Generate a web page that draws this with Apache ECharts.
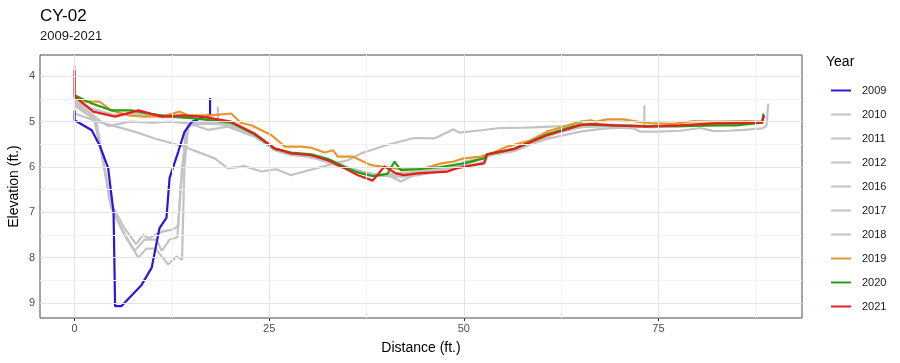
<!DOCTYPE html>
<html><head><meta charset="utf-8">
<script src="https://cdn.jsdelivr.net/npm/echarts@6/dist/echarts.min.js"></script>
<style>html,body{margin:0;padding:0;background:#fff}#c{width:900px;height:363px}</style>
</head><body><div id="c"></div>
<script>
const years = ['2009','2010','2011','2012','2016','2017','2018','2019','2020','2021'];
const xTicks = [0,25,50,75];
const xMinor = [12.5,37.5,62.5,87.5];
const yTicks = [4,5,6,7,8,9];
const yMinor = [4.5,5.5,6.5,7.5,8.5];

const x2009 = [0,0,2.2,3.2,4.3,5.0,5.2,6.0,8.6,9.9,10.9,11.8,12.2,13.3,14.1,15,17.1,17.4,17.4];
const y2009 = [4.75,4.97,5.19,5.52,6.02,7.0,9.07,9.07,8.6,8.22,7.35,7.12,6.24,5.67,5.23,5.01,4.86,4.86,4.48];

const x2010 = [0,3,7.7,10.3,14,16.3,18,19.7,21.8,24,25.9,27.8,29.5,33.4,35.1,36.8,40,43.6,46.2,48.7,49.4,52.2,54.7,58,62.8,67.6,72.3,73.2,73.2];
const y2010 = [4.82,5.0,5.22,5.37,5.55,5.7,5.81,6.03,5.98,6.1,6.05,6.18,6.1,5.92,5.85,5.7,5.52,5.36,5.37,5.17,5.24,5.19,5.14,5.13,5.1,5.1,5.12,5.1,4.64];

const x2011 = [0,2.5,3.7,4.5,6.4,7.9,8.8,9.6,10.5,11.4,12.6,13.3,13.8,14.6,16.5,18.4,18.4];
const y2011 = [4.6,4.95,5.9,6.75,7.35,7.7,7.5,7.57,7.48,7.42,7.38,7.3,6.0,5.08,5.02,5.0,4.67];

const x2012 = [0,2.6,3.8,4.7,6.4,8.2,9.2,10.4,12.0,13.1,13.8,14.1,14.6,16,18,20,23.1,25.7,27.8,30.4,32.9,35,37.5,40,42,44,46,48,50,52.2,54,56.5,58.6,60.7,62.8,65,67.6,70,71.8,72.7,75,77.8,80.4,82.1,84,86,88.3,88.9,89.1];
const y2012 = [4.65,4.95,6.0,6.9,7.5,8.0,7.8,7.8,8.15,7.97,8.05,6.0,5.1,5.05,5.05,5.08,5.3,5.63,5.74,5.78,5.92,6.05,6.15,6.2,6.22,6.15,6.1,6.05,5.95,5.8,5.72,5.65,5.5,5.38,5.3,5.22,5.16,5.13,5.15,5.22,5.22,5.2,5.14,5.21,5.2,5.18,5.15,5.09,4.6];

const x2016 = [0,2.7,3.9,5.0,6.5,7.7,9.0,10.5,11.2,12.2,13.2,13.6,14.3,15,17,20,23,25.7,28,30.5,33,35,37,39,40.5,41.9,43.2,45,47,49.2,50,52,53,56,60,63,66,70,74,78,82,86,88.6];
const y2016 = [4.55,4.9,6.1,7.0,7.5,7.85,7.6,7.6,7.85,7.6,7.55,6.5,5.2,5.05,5.0,5.05,5.28,5.58,5.7,5.8,5.85,6.0,6.1,6.18,6.2,6.32,6.21,6.15,6.1,6.03,5.88,5.82,5.75,5.62,5.35,5.18,5.1,5.08,5.12,5.1,5.08,5.05,5.02];

const x2017 = [0,2.6,4.3,7.1,10,12.4,15,17.1,19.7,23.1,25.7,27.8,30.4,32.9,35,37,39,41,43,45,47,49,51,53,56,59,62,65,68,71,74,78,82,86,88.5];
const y2017 = [4.5,4.9,5.1,5.0,5.02,5.0,5.05,5.18,5.11,5.33,5.62,5.73,5.75,5.85,6.02,6.12,6.18,6.14,6.12,6.08,6.03,5.98,5.9,5.75,5.62,5.45,5.25,5.12,5.1,5.08,5.12,5.1,5.06,5.04,5.0];

const x2018 = [0,0,2,5,8,11,14,17,20,23,25.7,28,30.4,32.9,35,37,39,41,43,45,47.5,49.5,51,52.8,53,56.5,60.7,63,65,67.6,70,73.5,77.8,82,86,88.5];
const y2018 = [3.76,4.5,4.7,4.85,4.82,4.9,4.9,4.92,5.02,5.3,5.62,5.72,5.76,5.88,6.05,6.15,6.2,6.18,6.15,6.1,6.05,6.0,5.95,5.88,5.75,5.62,5.3,5.15,5.1,5.06,5.07,5.1,5.08,5.05,5.04,5.02];

const x2019 = [0,1.3,3.2,4.7,6.9,9,11.3,13.5,14.6,17.6,20.1,21.4,22.7,25.3,27,29.1,30.5,32.1,33.2,33.8,35.7,38.1,41.9,44.5,47.1,48.7,50,52.2,53.5,55.6,58.6,60.7,62,65,66.3,67,68.4,70.5,72.3,74.4,77,79.5,82.1,86.4,88.3];
const y2019 = [4.45,4.56,4.56,4.75,4.86,4.89,4.88,4.78,4.86,4.86,4.82,5.03,5.08,5.3,5.55,5.55,5.58,5.68,5.63,5.77,5.77,5.96,6.05,6.05,5.92,5.88,5.81,5.77,5.7,5.55,5.41,5.22,5.15,5.0,4.97,5.0,4.95,4.95,5.0,5.04,5.05,4.99,5.0,4.99,5.0];

const x2020 = [0,2.2,4.7,7.3,9.4,12.4,15.4,20.1,23.1,25.7,27.8,30.4,32.5,34.7,36.4,38.3,40.2,41.1,41.9,44,47,50,52.6,53,56.5,60.7,65,69,73.5,78,82,85,88.3,88.5,88.5];
const y2020 = [4.42,4.6,4.75,4.75,4.82,4.89,4.93,5.02,5.28,5.6,5.68,5.72,5.82,6.0,6.12,6.2,6.15,5.88,6.07,6.05,6.0,5.92,5.81,5.72,5.6,5.28,5.06,5.08,5.1,5.1,5.08,5.08,5.02,5.02,4.82];

const x2021 = [0,0,2.4,5.2,8.2,11.2,13.7,16.3,20.1,23.1,25.7,27.8,30.4,32.5,34.7,36.4,38.3,39.8,41.3,42.3,44.1,47.9,49,50.5,52.6,53,56.5,60.7,65,66.3,69.2,73.5,77.8,82.1,88.3,88.6];
const y2021 = [3.87,4.45,4.78,4.89,4.75,4.89,4.86,4.89,5.0,5.26,5.59,5.7,5.74,5.85,6.03,6.18,6.3,5.99,6.14,6.18,6.14,6.1,6.03,5.98,5.92,5.72,5.6,5.3,5.08,5.05,5.08,5.11,5.08,5.04,5.02,4.86];

const seriesData = {
  '2009':[x2009,y2009],'2010':[x2010,y2010],'2011':[x2011,y2011],'2012':[x2012,y2012],
  '2016':[x2016,y2016],'2017':[x2017,y2017],'2018':[x2018,y2018],
  '2019':[x2019,y2019],'2020':[x2020,y2020],'2021':[x2021,y2021]
};
const colors = {'2009':'#2f14e0','2010':'#c3c3c3','2011':'#c3c3c3','2012':'#c3c3c3','2016':'#c3c3c3','2017':'#c3c3c3','2018':'#c3c3c3','2019':'#e6962c','2020':'#22a012','2021':'#e3201b'};
const drawOrder = ['2010','2011','2012','2016','2017','2018','2009','2019','2020','2021'];

const font = 'Liberation Sans, Arial, sans-serif';
const chart = echarts.init(document.getElementById('c'), null, {renderer:'canvas'});

const series = [];
series.push({
  type:'line', name:'grid', data:[], silent:true, z:1,
  markLine:{silent:true, symbol:'none', animation:false, label:{show:false},
    data:[
      ...xMinor.map(v=>({xAxis:v, lineStyle:{color:'#f3f3f3',width:1,type:'solid'}})),
      ...yMinor.map(v=>({yAxis:v, lineStyle:{color:'#f3f3f3',width:1,type:'solid'}})),
      ...xTicks.map(v=>({xAxis:v, lineStyle:{color:'#e4e4e4',width:1,type:'solid'}})),
      ...yTicks.map(v=>({yAxis:v, lineStyle:{color:'#e4e4e4',width:1,type:'solid'}}))
    ]}
});
drawOrder.forEach(y=>{
  const [xs,ys] = seriesData[y];
  series.push({
    type:'line', name:y, symbol:'none', z:2, animation:false,
    data: xs.map((v,i)=>[v,ys[i]]),
    lineStyle:{color:colors[y], width:2.2},
    itemStyle:{color:colors[y]}
  });
});

chart.setOption({
  animation:false,
  textStyle:{fontFamily:font},
  title:{text:'CY-02', subtext:'2009-2021', left:35, top:3, itemGap:5,
    textStyle:{fontSize:17, fontWeight:'normal', color:'#000', fontFamily:font},
    subtextStyle:{fontSize:13, color:'#1a1a1a', fontFamily:font}},
  grid:{left:40, top:55, width:762, height:263, show:true, borderColor:'#4a4a4a', borderWidth:1, backgroundColor:'transparent', containLabel:false, outerBoundsMode:'none'},
  legend:{data:years, orient:'vertical', left:826, top:80, itemWidth:20, itemHeight:14, itemGap:13,
    icon:'path://M0,6 L20,6 L20,8 L0,8 Z',
    textStyle:{fontSize:11, color:'#1a1a1a', fontFamily:font, padding:[0,0,0,6]}},
  graphic:[{type:'text', left:826, top:55, style:{text:'Year', fontSize:14, fill:'#000', fontFamily:font}}],
  xAxis:{type:'value', min:-4.45, max:93.45,
    name:'Distance (ft.)', nameLocation:'middle', nameGap:23,
    nameTextStyle:{fontSize:14, color:'#000', fontFamily:font},
    axisLine:{show:false}, splitLine:{show:false},
    axisTick:{show:true, length:3, lineStyle:{color:'#333'}, customValues:xTicks},
    axisLabel:{customValues:xTicks, fontSize:11, color:'#4d4d4d', margin:5, fontFamily:font}},
  yAxis:{type:'value', inverse:true, min:3.53, max:9.33,
    name:'Elevation (ft.)', nameLocation:'middle', nameGap:19, nameMoveOverlap:false,
    nameTextStyle:{fontSize:14, color:'#000', fontFamily:font},
    axisLine:{show:false}, splitLine:{show:false},
    axisTick:{show:true, length:3, lineStyle:{color:'#333'}, customValues:yTicks},
    axisLabel:{customValues:yTicks, fontSize:11, color:'#4d4d4d', margin:5, fontFamily:font}},
  series:series
});
</script></body></html>
